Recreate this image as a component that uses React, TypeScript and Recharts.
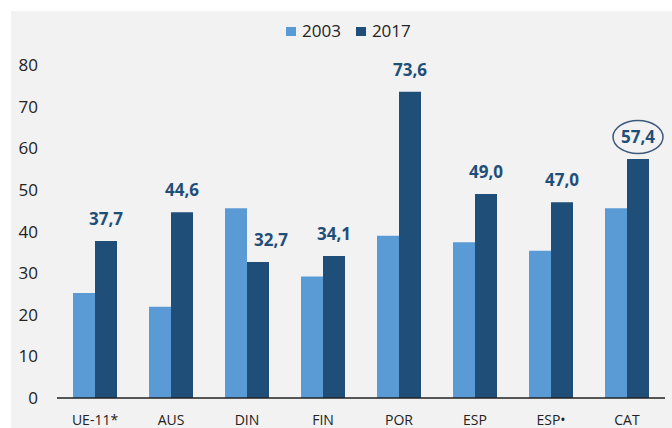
import React from 'react'
import { BarChart, Bar, XAxis, YAxis, Legend, LabelList } from 'recharts'

const categories = ['UE-11*', 'AUS', 'DIN', 'FIN', 'POR', 'ESP', 'ESP•', 'CAT']
const values2003 = [25.2, 21.9, 45.6, 29.2, 39.0, 37.4, 35.4, 45.6]
const values2017 = [37.7, 44.6, 32.7, 34.1, 73.6, 49.0, 47.0, 57.4]
const yTicks = [0, 10, 20, 30, 40, 50, 60, 70, 80]
const highlightIndex = 7

const LIGHT = '#5b9bd5'
const DARK = '#1f4e79'
const FONT = '"Open Sans", "Liberation Sans", sans-serif'

// the DIN label sits a bit to the right so it clears the taller 2003 bar
const labelNudge: Record<number, number> = { 2: 13 }

const data = categories.map((name, i) => ({ name, y2003: values2003[i], y2017: values2017[i] }))

const fmt = (v: number) => v.toFixed(1).replace('.', ',')

function ValueLabel(props: any) {
  const { x, y, width, value, index } = props
  const cx = Number(x) + Number(width) / 2
  const baseline = Number(y) - 16
  return (
    <g>
      <text
        x={cx + (labelNudge[index] ?? 0)}
        y={baseline}
        textAnchor="middle"
        fill={DARK}
        fontFamily={FONT}
        fontWeight={700}
        fontSize={17}
      >
        {fmt(Number(value))}
      </text>
      {index === highlightIndex && (
        <ellipse
          cx={cx}
          cy={baseline - 6}
          rx={25}
          ry={16.5}
          fill="none"
          stroke="#3d5a7a"
          strokeWidth={1.5}
        />
      )}
    </g>
  )
}

function LegendContent(props: any) {
  const items = props.payload ?? []
  return (
    <div style={{ display: 'flex', alignItems: 'center', fontFamily: FONT, fontSize: 17, color: '#222', lineHeight: '20px' }}>
      {items.map((item: any) => (
        <div key={item.value} style={{ display: 'flex', alignItems: 'center', marginRight: 15 }}>
          <span style={{ display: 'inline-block', width: 10, height: 9, background: item.color, marginRight: 6 }} />
          <span>{item.value}</span>
        </div>
      ))}
    </div>
  )
}

export default function App() {
  return (
    <div
      style={{
        position: 'fixed',
        left: 11,
        top: 11,
        width: 661,
        height: 417,
        background: '#f2f2f2',
      }}
    >
      <BarChart
        width={661}
        height={417}
        data={data}
        margin={{ top: 54, right: 7, left: 0, bottom: 0 }}
        barCategoryGap={16}
        barGap={0}
      >
        <XAxis
          dataKey="name"
          height={30}
          tickLine={false}
          tickSize={0}
          tickMargin={17}
          axisLine={{ stroke: '#222', strokeWidth: 1.5 }}
          tick={{ fontSize: 14, fontFamily: FONT, fill: '#222' }}
          interval={0}
        />
        <YAxis
          width={46}
          domain={[0, 80]}
          ticks={yTicks}
          axisLine={false}
          tickLine={false}
          tickSize={0}
          tickMargin={19}
          tick={{ fontSize: 17, fontFamily: FONT, fill: '#222' }}
        />
        <Legend
          layout="horizontal"
          verticalAlign="middle"
          align="center"
          wrapperStyle={{ top: 10, left: 275, width: 200, height: 20 }}
          content={<LegendContent />}
        />
        <Bar dataKey="y2003" name="2003" fill={LIGHT} isAnimationActive={false} />
        <Bar dataKey="y2017" name="2017" fill={DARK} isAnimationActive={false}>
          <LabelList dataKey="y2017" content={<ValueLabel />} />
        </Bar>
      </BarChart>
    </div>
  )
}
